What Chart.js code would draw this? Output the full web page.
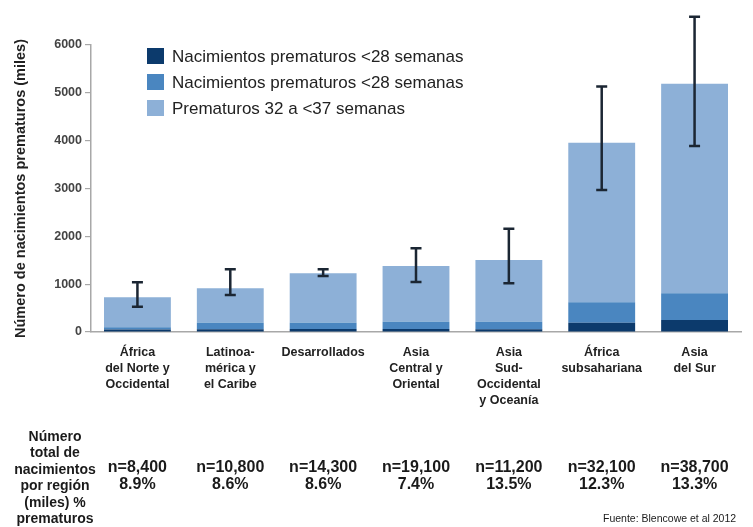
<!DOCTYPE html>
<html>
<head>
<meta charset="utf-8">
<script src="https://cdn.jsdelivr.net/npm/chart.js@4"></script>
<style>
  html, body { margin: 0; padding: 0; background: #fff; }
  #wrap { width: 753px; height: 527px; position: relative; }
</style>
</head>
<body>
<div id="wrap"><canvas id="c" width="753" height="527"></canvas></div>
<script>
const categories = [
  ["África", "del Norte y", "Occidental"],
  ["Latinoa-", "mérica y", "el Caribe"],
  ["Desarrollados"],
  ["Asia", "Central y", "Oriental"],
  ["Asia", "Sud-", "Occidental", "y Oceanía"],
  ["África", "subsahariana"],
  ["Asia", "del Sur"]
];
const seriesLabels = [
  "Nacimientos prematuros <28 semanas",
  "Nacimientos prematuros <28 semanas",
  "Prematuros 32 a <37 semanas"
];
const under28 = [50, 55, 65, 65, 60, 195, 250];
const from28to32 = [50, 140, 130, 150, 155, 425, 560];
const from32to37 = [625, 720, 1035, 1165, 1290, 3335, 4380];
const errLow = [530, 775, 1170, 1045, 1020, 2970, 3890];
const errHigh = [1040, 1310, 1310, 1750, 2160, 5130, 6590];
const totalBirths = ["n=8,400", "n=10,800", "n=14,300", "n=19,100", "n=11,200", "n=32,100", "n=38,700"];
const pctPreterm = ["8.9%", "8.6%", "8.6%", "7.4%", "13.5%", "12.3%", "13.3%"];
const yTicks = [0, 1000, 2000, 3000, 4000, 5000, 6000];
const rowTitle = ["Número", "total de", "nacimientos", "por región", "(miles) %", "prematuros"];
const sourceText = "Fuente: Blencowe et al 2012";

const colors = ["#0c3a6c", "#4a86c0", "#8db0d7"];
const FONT = "'Liberation Sans', Arial, Helvetica, sans-serif";

const errorBarPlugin = {
  id: "errorBars",
  afterDatasetsDraw(chart) {
    const ctx = chart.ctx;
    const xs = chart.scales.x, ys = chart.scales.y;
    ctx.save();
    ctx.strokeStyle = "#1b2633";
    ctx.lineWidth = 2.5;
    errLow.forEach((lo, i) => {
      const x = xs.getPixelForValue(i);
      const yl = ys.getPixelForValue(lo);
      const yh = ys.getPixelForValue(errHigh[i]);
      ctx.beginPath();
      ctx.moveTo(x, yl); ctx.lineTo(x, yh);
      ctx.moveTo(x - 5.5, yl); ctx.lineTo(x + 5.5, yl);
      ctx.moveTo(x - 5.5, yh); ctx.lineTo(x + 5.5, yh);
      ctx.stroke();
    });
    ctx.restore();
  }
};

const customLegendPlugin = {
  id: "customLegend",
  afterDraw(chart) {
    const ctx = chart.ctx;
    ctx.save();
    chart.data.datasets.forEach((ds, i) => {
      const y = 56 + i * 26;
      ctx.fillStyle = ds.backgroundColor;
      ctx.fillRect(147, y - 8, 17, 16);
      ctx.fillStyle = "#222";
      ctx.font = "17px " + FONT;
      ctx.textBaseline = "middle";
      ctx.textAlign = "left";
      ctx.fillText(ds.label, 172, y + 1);
    });
    ctx.restore();
  }
};

const bottomTablePlugin = {
  id: "bottomTable",
  afterDraw(chart) {
    const ctx = chart.ctx;
    const xs = chart.scales.x;
    ctx.save();
    ctx.fillStyle = "#1a1a1a";
    ctx.textAlign = "center";
    ctx.textBaseline = "middle";
    ctx.font = "bold 14px " + FONT;
    rowTitle.forEach((t, i) => ctx.fillText(t, 55, 437 + i * 16.5));
    ctx.font = "bold 16px " + FONT;
    totalBirths.forEach((t, i) => ctx.fillText(t, xs.getPixelForValue(i), 468));
    pctPreterm.forEach((t, i) => ctx.fillText(t, xs.getPixelForValue(i), 485));
    ctx.font = "10.5px " + FONT;
    ctx.textAlign = "left";
    ctx.fillText(sourceText, 603, 519);
    ctx.restore();
  }
};

new Chart(document.getElementById("c"), {
  type: "bar",
  data: {
    labels: categories,
    datasets: [
      { label: seriesLabels[0], data: under28, backgroundColor: colors[0] },
      { label: seriesLabels[1], data: from28to32, backgroundColor: colors[1] },
      { label: seriesLabels[2], data: from32to37, backgroundColor: colors[2] }
    ]
  },
  options: {
    responsive: false,
    animation: false,
    layout: { padding: { top: 45, right: 12, left: 0, bottom: 0 } },
    datasets: { bar: { barPercentage: 0.72, categoryPercentage: 1, borderWidth: 0 } },
    plugins: { legend: { display: false }, tooltip: { enabled: false } },
    scales: {
      x: {
        stacked: true,
        afterFit(s) { s.height = 195; },
        grid: { display: false, drawTicks: false },
        border: { display: true, color: "#a8a8a8", width: 1.5 },
        ticks: {
          autoSkip: false, maxRotation: 0, minRotation: 0, padding: 12,
          color: "#222",
          font: { family: FONT, size: 12.5, weight: "bold", lineHeight: 1.3 }
        }
      },
      y: {
        stacked: true,
        min: 0, max: 6000,
        afterFit(s) { s.width = 91; },
        afterBuildTicks(s) { s.ticks = yTicks.map(v => ({ value: v })); },
        grid: { display: true, drawOnChartArea: false, drawTicks: true, tickLength: 6, color: "#a8a8a8", lineWidth: 1.2 },
        border: { display: true, color: "#a8a8a8", width: 1.5 },
        ticks: {
          padding: 3, color: "#444",
          callback: (v) => String(v),
          font: { family: FONT, size: 12.5, weight: "bold" }
        },
        title: {
          display: true,
          text: "Número de nacimientos prematuros (miles)",
          color: "#222",
          padding: { top: 12, bottom: 0 },
          font: { family: FONT, size: 14.5, weight: "bold" }
        }
      }
    }
  },
  plugins: [errorBarPlugin, customLegendPlugin, bottomTablePlugin]
});
</script>
</body>
</html>
